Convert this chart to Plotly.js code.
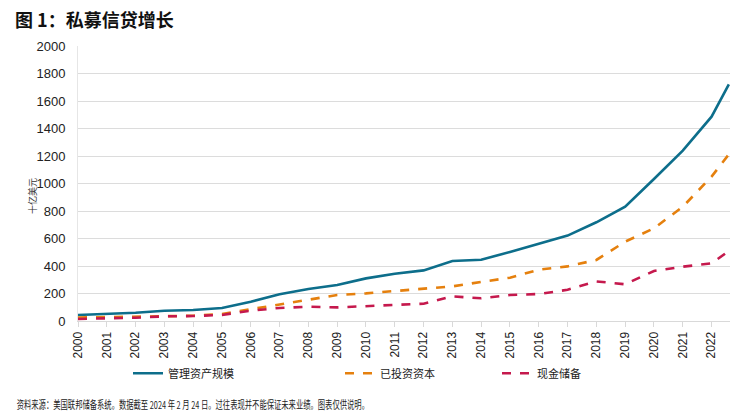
<!DOCTYPE html>
<html>
<head>
<meta charset="utf-8">
<script src="https://cdn.plot.ly/plotly-3.0.1.min.js"></script>
<style>html,body{margin:0;padding:0;background:#fff;}#chart{width:747px;height:418px;}</style>
</head>
<body>
<div id="chart"></div>
<script>
const years = [2000,2001,2002,2003,2004,2005,2006,2007,2008,2009,2010,2011,2012,2013,2014,2015,2016,2017,2018,2019,2020,2021,2022,2022.6];
const tickYears = [2000,2001,2002,2003,2004,2005,2006,2007,2008,2009,2010,2011,2012,2013,2014,2015,2016,2017,2018,2019,2020,2021,2022];
const aum = [44,51,60,75,80,95,140,194,233,262,310,344,368,436,446,502,562,621,718,831,1033,1239,1486,1721];
const invested = [25,28,30,35,38,51,85,116,153,189,201,218,240,252,284,315,373,397,444,577,674,831,1050,1212];
const cash = [15,19,24,34,36,44,75,95,104,99,107,114,126,179,165,189,196,227,288,267,364,395,419,509];
const names = ['管理资产规模','已投资资本','现金储备'];
const titleText = '图 1：私募信贷增长';
const yTitle = '十亿美元';
const sourceText = '资料来源：美国联邦储备系统。数据截至 2024 年 2 月 24 日。过往表现并不能保证未来业绩。图表仅供说明。';
const FONT = 'Liberation Sans, Arial, Noto Sans CJK SC, sans-serif';
const CJK = 'Noto Sans CJK SC, Liberation Sans, sans-serif';

const traces = [
  {x: years, y: aum, name: names[0], mode:'lines', line:{color:'#0d6e8b', width:2.6}, legend:'legend'},
  {x: years, y: invested, name: names[1], mode:'lines', line:{color:'#e5800e', width:2.6, dash:'dash'}, legend:'legend2'},
  {x: years, y: cash, name: names[2], mode:'lines', line:{color:'#c5194d', width:2.6, dash:'dash'}, legend:'legend3'}
];

const PW = 652, PH = 275, ML = 78, MT = 46;
const legBase = {orientation:'h', yanchor:'middle', xanchor:'left', y:-0.19, font:{family:CJK, size:11, color:'#222'}, bgcolor:'rgba(0,0,0,0)', itemwidth:30, tracegroupgap:0};
const layout = {
  width:747, height:418,
  margin:{l:ML, r:17, t:MT, b:97},
  paper_bgcolor:'#fff', plot_bgcolor:'#fff',
  font:{family:FONT, size:12, color:'#222'},
  title:{text:'<b>'+titleText+'</b>', x:15/747, xref:'container', xanchor:'left', y:1-21/418, yref:'container', yanchor:'middle', font:{family:CJK, size:18, color:'#111'}},
  xaxis:{range:[2000,2022.64], tickvals:tickYears, ticktext:tickYears.map(String), tickangle:-90, showgrid:false, zeroline:false,
         showline:true, linecolor:'#d9d9d9', linewidth:1, ticks:'outside', ticklen:5, tickcolor:'#d9d9d9',
         tickfont:{family:FONT, size:12, color:'#222'}, fixedrange:true},
  yaxis:{range:[0,2000], dtick:200, showgrid:true, gridcolor:'#dcdcdc', gridwidth:1, zeroline:false,
         showline:true, linecolor:'#e6e6e6', ticks:'', ticklabelstandoff:9, tickfont:{family:FONT, size:13, color:'#222'}, fixedrange:true},
  legend:Object.assign({}, legBase, {x:(128-ML)/PW}),
  legend2:Object.assign({}, legBase, {x:(340-ML)/PW}),
  legend3:Object.assign({}, legBase, {x:(497-ML)/PW}),
  showlegend:true,
  annotations:[
    {text:sourceText, xref:'paper', yref:'paper', x:(15-ML)/PW, y:-(404-321)/PH, xanchor:'left', yanchor:'middle', showarrow:false,
     font:{family:CJK, size:11, color:'#222'}},
    {text:yTitle, xref:'paper', yref:'paper', x:(32-ML)/PW, y:(321-196)/PH, xanchor:'center', yanchor:'middle', showarrow:false, textangle:-90,
     font:{family:CJK, size:9, color:'#333'}}
  ]
};
Plotly.newPlot('chart', traces, layout, {displayModeBar:false, staticPlot:true}).then(function(gd){
  // condense the source note to match the narrow face of the original
  const g = gd.querySelector('.annotation[data-index="0"] .annotation-text-g');
  if (g) {
    const bb = g.getBBox();
    const target = 355;
    const s = Math.min(1, target / bb.width);
    const x0 = bb.x;
    const prev = g.getAttribute('transform') || '';
    g.setAttribute('transform', prev + ' translate(' + x0 + ',0) scale(' + s + ',1) translate(' + (-x0) + ',0)');
  }
});
</script>
</body>
</html>
